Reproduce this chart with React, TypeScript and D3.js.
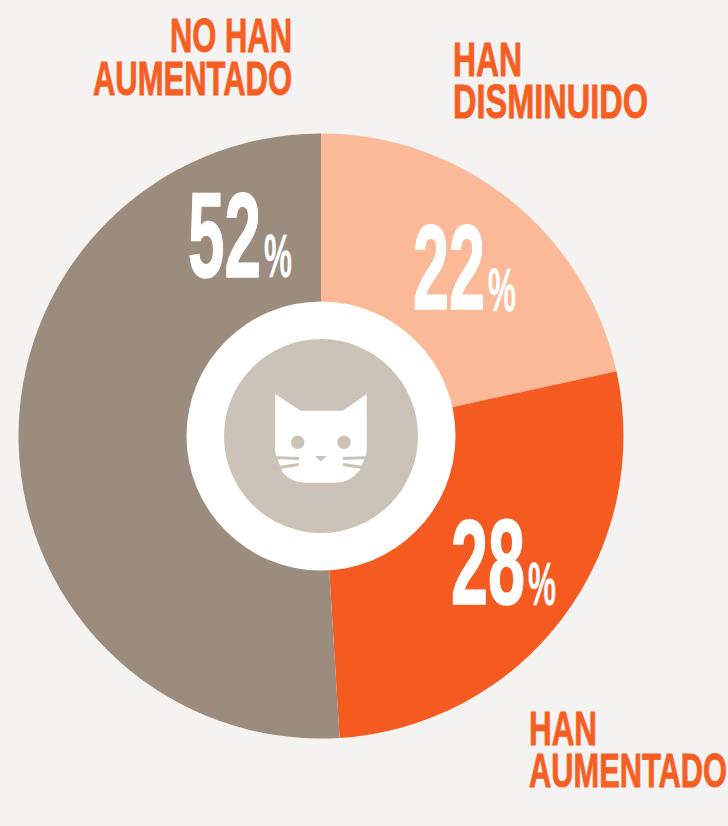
import React from "react";
import * as d3 from "d3";

const categories = ["HAN DISMINUIDO", "HAN AUMENTADO", "NO HAN AUMENTADO"];
const values = [22, 28, 52];
const sliceColors = ["#FCB997", "#F55B20", "#9B8C7E"];
const BG = "#F5F3F2";
const TAN = "#CBC2B8";
const ORANGE = "#F55F24";
const FONT = "'Liberation Sans Narrow','Liberation Sans',Arial,sans-serif";

const W = 728, H = 826, CX = 321, CY = 436, R = 302.5;

const pctLabels = [
  { v: "22", x: 413, y: 309, w: 72, px: 488, pw: 28, py: 311 },
  { v: "28", x: 451, y: 604, w: 74, px: 528, pw: 28, py: 605 },
  { v: "52", x: 188, y: 277, w: 73, px: 264, pw: 28, py: 277 },
];
const catLabels = [
  { t: "HAN", x: 453, y: 76, w: 69 },
  { t: "DISMINUIDO", x: 453, y: 118, w: 195 },
  { t: "HAN", x: 529, y: 745, w: 68 },
  { t: "AUMENTADO", x: 529, y: 787, w: 198 },
  { t: "NO HAN", x: 170, y: 52, w: 122 },
  { t: "AUMENTADO", x: 93, y: 95, w: 199 },
];

function Cat() {
  const body = "M275 394 L300.7 410.7 H342.7 L366.7 394 V449 Q366.7 452 366 455 L360 470 Q350 482.7 335 482.7 H306 Q292 482.7 283 473 L276 455 Q275 452 275 449 Z";
  return (
    <g>
      <path d={body} fill="#fff" />
      <circle cx={297.7} cy={442.3} r={6.7} fill={TAN} />
      <circle cx={344} cy={442.3} r={6.7} fill={TAN} />
      <path d="M315 456 H326.7 L320.8 461.7 Z" fill={TAN} />
      <g stroke={TAN} strokeWidth={3} fill="none">
        <path d="M272 457.5 L299 458.5" />
        <path d="M272 468.5 L299 464.5" />
        <path d="M370 457.5 L343 458.5" />
        <path d="M370 468.5 L343 464.5" />
      </g>
    </g>
  );
}

export default function App() {
  const pie = d3.pie<number>().sort(null)(values);
  const arc = d3.arc<d3.PieArcDatum<number>>().innerRadius(0).outerRadius(R);
  return (
    <svg width={W} height={H} viewBox={`0 0 ${W} ${H}`} style={{ position: "fixed", left: 0, top: 0, display: "block" }}>
      <rect width={W} height={H} fill={BG} />
      <g transform={`translate(${CX},${CY})`}>
        {pie.map((d, i) => (
          <path key={categories[i]} d={arc(d) as string} fill={sliceColors[i]} />
        ))}
        <circle r={134.5} fill="#fff" />
        <circle r={97} fill={TAN} />
      </g>
      <Cat />
      {pctLabels.map((l) => (
        <g key={l.v} fill="#fff" stroke="#fff" fontFamily={FONT} fontWeight={700}>
          <text x={l.x} y={l.y} fontSize={120} strokeWidth={1.6} textLength={l.w} lengthAdjust="spacingAndGlyphs">{l.v}</text>
          <text x={l.px} y={l.py} fontSize={62} strokeWidth={0.3} textLength={l.pw} lengthAdjust="spacingAndGlyphs">%</text>
        </g>
      ))}
      {catLabels.map((l, i) => (
        <text key={i} x={l.x} y={l.y} fill={ORANGE} stroke={ORANGE} strokeWidth={0.9} fontFamily={FONT} fontWeight={700} fontSize={47.5} textLength={l.w} lengthAdjust="spacingAndGlyphs">{l.t}</text>
      ))}
    </svg>
  );
}
